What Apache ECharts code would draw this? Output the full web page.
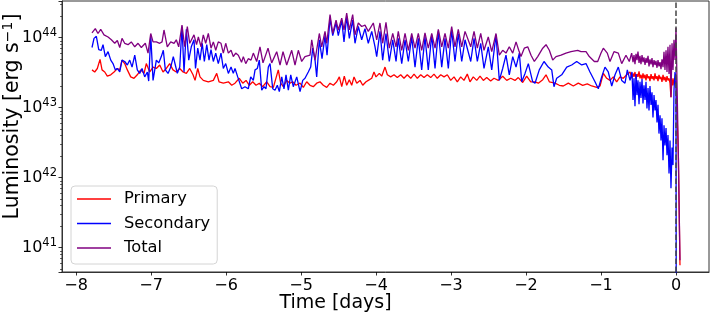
<!DOCTYPE html>
<html><head><meta charset="utf-8">
<script src="https://cdn.jsdelivr.net/npm/echarts@6/dist/echarts.min.js"></script>
<style>html,body{margin:0;padding:0;background:#fff}#c{width:710px;height:313px}</style>
</head><body><div id="c"></div>
<script>
// Tick values
const xTicks = [-8, -7, -6, -5, -4, -3, -2, -1, 0];
const yTickExponents = [41, 42, 43, 44];
// Axis ranges (x in days, y as log10 of luminosity)
const xRange = [-8.187, 0.44];
const yLogRange = [40.653, 44.524];

// Series: [time in days, log10(L / erg s^-1)]
const primary = [[-7.787,43.54],[-7.751,43.51],[-7.716,43.56],[-7.680,43.69],[-7.653,43.54],[-7.617,43.51],[-7.583,43.45],[-7.537,43.47],[-7.493,43.51],[-7.449,43.56],[-7.417,43.54],[-7.387,43.68],[-7.351,43.63],[-7.316,43.54],[-7.271,43.44],[-7.227,43.42],[-7.183,43.47],[-7.137,43.54],[-7.093,43.49],[-7.063,43.63],[-7.017,43.51],[-6.973,43.58],[-6.929,43.56],[-6.884,43.61],[-6.840,43.51],[-6.796,43.56],[-6.751,43.63],[-6.707,43.54],[-6.663,43.51],[-6.617,43.56],[-6.573,43.51],[-6.529,43.49],[-6.484,43.56],[-6.440,43.47],[-6.413,43.39],[-6.377,43.56],[-6.347,43.44],[-6.303,43.39],[-6.236,43.37],[-6.169,43.39],[-6.124,43.49],[-6.093,43.37],[-6.036,43.35],[-5.969,43.37],[-5.924,43.32],[-5.880,43.35],[-5.823,43.42],[-5.777,43.35],[-5.733,43.39],[-5.689,43.32],[-5.644,43.37],[-5.600,43.32],[-5.556,43.35],[-5.511,43.30],[-5.457,43.37],[-5.413,43.30],[-5.369,43.29],[-5.303,43.54],[-5.271,43.35],[-5.236,43.30],[-5.191,43.39],[-5.147,43.35],[-5.111,43.37],[-5.067,43.32],[-5.013,43.35],[-4.969,43.29],[-4.924,43.37],[-4.880,43.32],[-4.836,43.30],[-4.791,43.35],[-4.747,43.37],[-4.703,43.32],[-4.657,43.29],[-4.613,43.35],[-4.569,43.32],[-4.524,43.37],[-4.489,43.44],[-4.457,43.30],[-4.423,43.45],[-4.391,43.32],[-4.356,43.40],[-4.324,43.32],[-4.293,43.44],[-4.257,43.35],[-4.213,43.39],[-4.177,43.32],[-4.133,43.37],[-4.103,43.39],[-4.057,43.42],[-4.027,43.51],[-4.000,43.44],[-3.956,43.49],[-3.924,43.45],[-3.880,43.58],[-3.849,43.47],[-3.804,43.44],[-3.760,43.47],[-3.716,43.43],[-3.671,43.47],[-3.627,43.42],[-3.583,43.47],[-3.537,43.42],[-3.493,43.48],[-3.449,43.42],[-3.404,43.47],[-3.360,43.43],[-3.316,43.47],[-3.271,43.43],[-3.227,43.48],[-3.183,43.42],[-3.137,43.47],[-3.093,43.44],[-3.049,43.47],[-3.004,43.39],[-2.960,43.44],[-2.916,43.37],[-2.871,43.44],[-2.827,43.39],[-2.783,43.48],[-2.747,43.37],[-2.703,43.44],[-2.657,43.39],[-2.613,43.45],[-2.569,43.39],[-2.524,43.43],[-2.471,43.38],[-2.427,43.42],[-2.369,43.39],[-2.311,43.45],[-2.257,43.39],[-2.204,43.42],[-2.147,43.39],[-2.103,43.43],[-2.044,43.36],[-1.991,43.45],[-1.937,43.37],[-1.880,43.37],[-1.836,43.35],[-1.777,43.40],[-1.733,43.47],[-1.689,43.37],[-1.613,43.35],[-1.556,43.32],[-1.503,43.31],[-1.436,43.35],[-1.369,43.31],[-1.303,43.35],[-1.244,43.32],[-1.183,43.34],[-1.124,43.31],[-1.057,43.29],[-1.013,43.31],[-0.969,43.49],[-0.924,43.42],[-0.880,43.39],[-0.836,43.44],[-0.791,43.37],[-0.747,43.44],[-0.703,43.42],[-0.657,43.47],[-0.613,43.51],
[-0.587,43.42],[-0.573,43.49],[-0.560,43.44],[-0.547,43.51],[-0.533,43.41],[-0.520,43.48],[-0.507,43.44],[-0.493,43.52],[-0.480,43.42],[-0.467,43.47],[-0.453,43.41],[-0.440,43.49],[-0.427,43.42],[-0.413,43.47],[-0.400,43.39],[-0.387,43.48],[-0.373,43.42],[-0.360,43.45],[-0.347,43.38],[-0.333,43.48],[-0.320,43.41],[-0.307,43.45],[-0.293,43.39],[-0.280,43.49],[-0.267,43.41],[-0.253,43.45],[-0.240,43.38],[-0.227,43.47],[-0.213,43.41],[-0.200,43.44],[-0.187,43.37],[-0.173,43.47],[-0.160,43.39],[-0.147,43.44],[-0.133,43.37],[-0.120,43.45],[-0.107,43.39],[-0.093,43.42],[-0.080,43.35],[-0.067,43.15],[-0.053,43.42],[-0.040,43.32],[-0.027,43.42],[-0.013,43.34],[0.000,43.39],[0.031,42.35],[0.053,40.75]];

const secondary = [[-7.787,43.86],[-7.760,43.99],[-7.729,44.02],[-7.697,43.83],[-7.663,43.82],[-7.640,43.90],[-7.609,43.73],[-7.573,43.80],[-7.537,43.68],[-7.507,43.63],[-7.476,43.54],[-7.449,43.56],[-7.417,43.51],[-7.387,43.68],[-7.351,43.66],[-7.316,43.61],[-7.284,43.68],[-7.253,43.58],[-7.217,43.75],[-7.183,43.54],[-7.151,43.49],[-7.120,43.56],[-7.084,43.44],[-7.049,43.51],[-7.031,43.38],[-7.004,44.04],[-6.973,43.39],[-6.929,43.68],[-6.897,43.64],[-6.863,43.73],[-6.836,43.82],[-6.809,43.54],[-6.773,43.49],[-6.737,43.58],[-6.703,43.73],[-6.676,43.61],[-6.649,43.49],[-6.617,43.58],[-6.587,44.16],[-6.560,43.51],[-6.529,44.12],[-6.497,43.68],[-6.463,43.87],[-6.427,43.97],[-6.407,43.56],[-6.377,43.85],[-6.347,43.68],[-6.317,43.92],[-6.289,43.66],[-6.257,43.90],[-6.227,43.68],[-6.200,43.83],[-6.169,43.66],[-6.137,43.78],[-6.103,43.63],[-6.067,43.78],[-6.036,43.56],[-6.004,43.63],[-5.969,43.49],[-5.933,43.58],[-5.903,43.49],[-5.880,43.56],[-5.844,43.44],[-5.823,43.42],[-5.791,43.27],[-5.747,43.30],[-5.703,43.27],[-5.671,43.44],[-5.636,43.39],[-5.613,43.54],[-5.583,43.56],[-5.556,43.68],[-5.524,43.25],[-5.493,43.30],[-5.467,43.27],[-5.436,43.58],[-5.413,43.63],[-5.377,43.27],[-5.347,43.25],[-5.316,43.32],[-5.289,43.23],[-5.257,43.44],[-5.227,43.27],[-5.200,43.47],[-5.169,43.25],[-5.137,43.47],[-5.103,43.30],[-5.057,43.44],[-5.013,43.23],[-4.977,43.39],[-4.947,43.42],[-4.903,43.51],[-4.871,43.58],[-4.844,43.85],[-4.813,43.68],[-4.791,43.44],[-4.756,43.97],[-4.720,43.70],[-4.680,44.03],[-4.653,43.75],[-4.613,44.28],[-4.577,44.03],[-4.533,44.21],[-4.503,44.03],[-4.457,44.25],[-4.427,43.94],[-4.391,44.30],[-4.356,43.99],[-4.311,44.25],[-4.280,43.92],[-4.236,44.16],[-4.191,43.97],[-4.147,44.13],[-4.103,43.92],[-4.057,44.09],[-4.013,43.87],[-3.991,43.73],[-3.947,44.09],[-3.911,43.68],[-3.867,44.06],[-3.823,43.66],[-3.777,43.97],[-3.733,43.66],[-3.703,43.99],[-3.657,43.63],[-3.613,43.97],[-3.569,43.66],[-3.524,44.01],[-3.480,43.58],[-3.436,43.99],[-3.391,43.54],[-3.347,44.01],[-3.303,43.54],[-3.257,44.04],[-3.213,43.56],[-3.169,44.09],[-3.124,43.58],[-3.080,43.99],[-3.036,43.56],[-2.991,44.11],[-2.947,43.66],[-2.903,44.06],[-2.857,43.66],[-2.813,43.97],[-2.737,43.66],[-2.693,43.99],[-2.649,43.66],[-2.604,43.92],[-2.560,43.56],[-2.503,43.87],[-2.457,43.54],[-2.400,44.04],[-2.356,43.39],[-2.311,43.56],[-2.267,43.75],[-2.223,43.47],[-2.177,43.73],[-2.133,43.58],[-2.089,43.78],[-2.057,43.37],[-2.013,43.49],[-1.969,43.63],[-1.911,43.37],[-1.880,43.35],[-1.823,43.54],[-1.760,43.66],[-1.703,43.58],[-1.657,43.54],[-1.627,43.30],[-1.591,43.42],[-1.524,43.47],[-1.457,43.58],[-1.391,43.61],[-1.324,43.66],[-1.257,43.61],[-1.200,43.63],[-1.147,43.51],[-1.080,43.37],[-1.036,43.27],[-0.991,43.44],[-0.947,43.58],[-0.903,43.51],[-0.857,43.31],[-0.813,43.47],[-0.769,43.58],[-0.724,43.39],[-0.680,43.35],[-0.649,43.54],[-0.613,43.39],
[-0.587,43.51],[-0.573,43.11],[-0.560,43.42],[-0.547,43.02],[-0.533,43.48],[-0.520,43.18],[-0.507,43.39],[-0.493,43.05],[-0.480,43.37],[-0.467,43.14],[-0.453,43.41],[-0.440,43.06],[-0.427,43.32],[-0.413,43.11],[-0.400,43.37],[-0.387,42.99],[-0.373,43.28],[-0.360,42.96],[-0.347,43.31],[-0.333,43.04],[-0.320,43.22],[-0.307,42.86],[-0.293,43.18],[-0.280,42.96],[-0.267,43.11],[-0.253,42.79],[-0.240,43.04],[-0.227,42.63],[-0.213,42.89],[-0.200,42.53],[-0.187,42.85],[-0.173,42.25],[-0.160,42.75],[-0.147,42.46],[-0.133,42.71],[-0.120,42.32],[-0.107,42.61],[-0.093,42.06],[-0.080,42.53],[-0.067,41.85],[-0.053,42.43],[-0.040,42.18],[-0.027,43.25],[-0.013,43.51],[0.000,43.40],[0.004,39.5]];

const total = [[-7.787,44.07],[-7.743,44.13],[-7.707,44.06],[-7.671,44.12],[-7.627,44.04],[-7.573,44.01],[-7.529,43.97],[-7.484,43.92],[-7.449,43.96],[-7.417,43.86],[-7.387,43.99],[-7.351,43.92],[-7.307,43.90],[-7.263,43.94],[-7.217,43.87],[-7.173,43.92],[-7.129,43.86],[-7.076,43.92],[-7.040,43.78],[-7.004,44.06],[-6.973,43.94],[-6.929,43.94],[-6.884,43.92],[-6.853,43.94],[-6.827,44.11],[-6.783,43.87],[-6.737,43.94],[-6.693,43.92],[-6.663,43.97],[-6.631,43.87],[-6.587,44.18],[-6.551,43.87],[-6.516,44.16],[-6.484,43.92],[-6.427,44.04],[-6.393,43.90],[-6.369,44.01],[-6.333,43.87],[-6.303,44.04],[-6.271,43.92],[-6.236,44.06],[-6.200,43.85],[-6.169,43.94],[-6.137,43.82],[-6.103,43.94],[-6.067,43.92],[-6.036,43.78],[-6.004,43.92],[-5.969,43.78],[-5.933,43.82],[-5.903,43.73],[-5.871,43.78],[-5.836,43.75],[-5.793,43.65],[-5.769,43.73],[-5.737,43.63],[-5.703,43.70],[-5.667,43.68],[-5.636,43.78],[-5.591,43.66],[-5.547,43.87],[-5.507,43.64],[-5.440,43.85],[-5.391,43.64],[-5.324,43.80],[-5.280,43.61],[-5.240,43.80],[-5.191,43.61],[-5.124,43.82],[-5.080,43.61],[-5.036,43.82],[-4.991,43.66],[-4.947,43.73],[-4.880,43.75],[-4.857,43.97],[-4.813,43.68],[-4.756,44.06],[-4.724,43.87],[-4.680,44.09],[-4.657,43.92],[-4.613,44.33],[-4.577,44.06],[-4.533,44.25],[-4.503,44.11],[-4.457,44.28],[-4.427,44.11],[-4.391,44.35],[-4.356,44.11],[-4.311,44.33],[-4.280,44.04],[-4.236,44.21],[-4.191,44.16],[-4.147,44.18],[-4.103,44.09],[-4.036,44.21],[-3.991,43.97],[-3.947,44.21],[-3.911,43.92],[-3.867,44.22],[-3.823,43.85],[-3.777,44.06],[-3.733,43.87],[-3.703,44.09],[-3.657,43.82],[-3.613,44.06],[-3.569,43.82],[-3.524,44.06],[-3.480,43.85],[-3.436,44.06],[-3.391,43.82],[-3.347,44.07],[-3.303,43.85],[-3.257,44.06],[-3.213,43.85],[-3.169,44.12],[-3.124,43.87],[-3.080,44.06],[-3.036,43.85],[-2.991,44.16],[-2.947,43.87],[-2.903,44.12],[-2.857,43.87],[-2.813,44.09],[-2.737,43.87],[-2.693,44.09],[-2.649,43.85],[-2.604,44.06],[-2.560,43.82],[-2.503,44.01],[-2.457,43.80],[-2.400,44.06],[-2.356,43.75],[-2.311,43.82],[-2.267,43.78],[-2.223,43.87],[-2.177,43.78],[-2.133,43.94],[-2.097,43.82],[-2.067,43.73],[-2.023,43.85],[-1.977,43.87],[-1.933,43.75],[-1.889,43.66],[-1.844,43.73],[-1.777,43.85],[-1.733,43.90],[-1.689,43.82],[-1.644,43.68],[-1.600,43.73],[-1.533,43.75],[-1.467,43.78],[-1.400,43.80],[-1.311,43.82],[-1.267,43.80],[-1.200,43.80],[-1.156,43.73],[-1.089,43.66],[-1.044,43.66],[-1.000,43.78],[-0.969,43.85],[-0.916,43.78],[-0.880,43.66],[-0.827,43.80],[-0.769,43.78],[-0.724,43.63],[-0.667,43.75],[-0.623,43.66],[-0.591,43.78],
[-0.573,43.65],[-0.560,43.75],[-0.547,43.62],[-0.533,43.77],[-0.520,43.68],[-0.507,43.80],[-0.493,43.64],[-0.480,43.74],[-0.467,43.62],[-0.453,43.75],[-0.440,43.65],[-0.427,43.72],[-0.413,43.61],[-0.400,43.71],[-0.387,43.64],[-0.373,43.74],[-0.360,43.59],[-0.347,43.69],[-0.333,43.62],[-0.320,43.71],[-0.307,43.58],[-0.293,43.68],[-0.280,43.61],[-0.267,43.67],[-0.253,43.57],[-0.240,43.68],[-0.227,43.59],[-0.213,43.65],[-0.200,43.55],[-0.187,43.69],[-0.173,43.58],[-0.160,43.80],[-0.147,43.54],[-0.133,43.82],[-0.120,43.51],[-0.107,43.87],[-0.093,43.48],[-0.080,43.90],[-0.067,43.15],[-0.053,43.92],[-0.040,43.54],[-0.027,43.97],[-0.013,43.68],[0.000,44.14],[0.031,42.35],[0.053,40.82]];

const FONT = 'DejaVu Sans';
const toLum = arr => arr.map(p => [p[0], Math.pow(10, p[1])]);
const fmtMinus = v => (v < 0 ? '\u2212' + Math.abs(v) : String(v));

const chart = echarts.init(document.getElementById('c'), null, {renderer: 'canvas'});
chart.setOption({
  animation: false,
  textStyle: {fontFamily: FONT},
  grid: {left: 62, top: 1, width: 647, height: 271, containLabel: false, outerBoundsMode: 'none',
         show: true, borderColor: '#333', borderWidth: 1, backgroundColor: 'transparent'},
  legend: {
    orient: 'vertical', left: 71, top: 186,
    data: ['Primary', 'Secondary', 'Total'],
    icon: 'rect',
    itemWidth: 34, itemHeight: 1.6, itemGap: 6.5,
    itemStyle: {borderWidth: 0},
    padding: [4, 7, 7, 6],
    borderColor: '#d4d4d4', borderWidth: 1, borderRadius: 4,
    backgroundColor: 'rgba(255,255,255,0.8)',
    textStyle: {fontFamily: FONT, fontSize: 16.3, color: '#000', lineHeight: 18, padding: [0, 0, 0, 8]}
  },
  xAxis: {
    type: 'value', min: xRange[0], max: xRange[1],
    name: 'Time [days]', nameLocation: 'middle', nameGap: 22, nameMoveOverlap: false,
    nameTextStyle: {fontFamily: FONT, fontSize: 19, color: '#000', padding: [0, 100, 0, 0]},
    axisLine: {show: true, onZero: false, lineStyle: {color: '#333', width: 1}},
    axisTick: {show: true, length: 3.5, customValues: xTicks, lineStyle: {color: '#000', width: 0.8}},
    axisLabel: {customValues: xTicks, margin: 6, formatter: fmtMinus, fontFamily: FONT, fontSize: 16, color: '#000'},
    splitLine: {show: false}
  },
  yAxis: {
    type: 'log', logBase: 10,
    min: Math.pow(10, yLogRange[0]), max: Math.pow(10, yLogRange[1]),
    name: 'Luminosity [erg s{s|\u22121}]', nameLocation: 'middle', nameGap: 37, nameRotate: 90, nameMoveOverlap: false,
    nameTextStyle: {fontFamily: FONT, fontSize: 20.5, color: '#000', lineHeight: 24, padding: [0, 0, 0, 40],
      rich: {s: {fontFamily: FONT, fontSize: 14, verticalAlign: 'top', lineHeight: 14, color: '#000'}}},
    axisLine: {show: true, onZero: false, lineStyle: {color: '#333', width: 1}},
    axisTick: {show: true, length: 3.5, lineStyle: {color: '#000', width: 0.8}},
    minorTick: {show: true, splitNumber: 9, length: 2, lineStyle: {color: '#000', width: 0.6}},
    splitLine: {show: false},
    axisLabel: {
      margin: 5, showMinLabel: false, showMaxLabel: false,
      formatter: function (v) {
        const lg = Math.log10(v);
        const e = Math.round(lg);
        if (Math.abs(lg - e) > 1e-6 || yTickExponents.indexOf(e) < 0) return '';
        return '{b|10}{s|' + e + '}';
      },
      rich: {
        b: {fontFamily: FONT, fontSize: 16, lineHeight: 22, color: '#000'},
        s: {fontFamily: FONT, fontSize: 11.5, lineHeight: 14, verticalAlign: 'top', color: '#000'}
      }
    }
  },
  series: [
    {name: 'Primary', type: 'line', data: toLum(primary), symbol: 'none', showSymbol: false,
     lineStyle: {color: '#ff0000', width: 1.3}, itemStyle: {color: '#ff0000'}},
    {name: 'Secondary', type: 'line', data: toLum(secondary), symbol: 'none', showSymbol: false,
     lineStyle: {color: '#0000ff', width: 1.3}, itemStyle: {color: '#0000ff'}},
    {name: 'Total', type: 'line', data: toLum(total), symbol: 'none', showSymbol: false,
     lineStyle: {color: '#800080', width: 1.3}, itemStyle: {color: '#800080'},
     markLine: {silent: true, symbol: ['none', 'none'], label: {show: false},
       lineStyle: {color: '#444', width: 1.5, type: [5.5, 2.5]},
       data: [{xAxis: 0}]}}
  ]
});
</script></body></html>
